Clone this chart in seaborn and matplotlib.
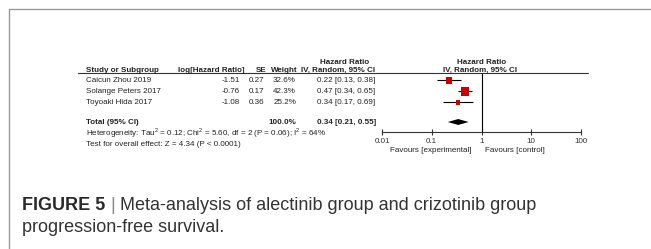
import numpy as np
import pandas as pd
import seaborn as sns
import matplotlib.pyplot as plt
from matplotlib.lines import Line2D

# --- DATA ---
studies = ['Caicun Zhou 2019', 'Solange Peters 2017', 'Toyoaki Hida 2017']
log_hr = ['-1.51', '-0.76', '-1.08']
se = ['0.27', '0.17', '0.36']
weights = [32.6, 42.3, 25.2]
hr = [0.22, 0.47, 0.34]
ci_low = [0.13, 0.34, 0.17]
ci_high = [0.38, 0.65, 0.69]
total_hr, total_low, total_high = 0.34, 0.21, 0.55
het_text = 'Heterogeneity: Tau$^{2}$ = 0.12; Chi$^{2}$ = 5.60, df = 2 (P = 0.06); I$^{2}$ = 64%'
effect_text = 'Test for overall effect: Z = 4.34 (P < 0.0001)'
tick_vals = [0.01, 0.1, 1, 10, 100]
tick_labels = ['0.01', '0.1', '1', '10', '100']

sns.set_theme(style='white')
plt.rcParams['font.family'] = ['Liberation Sans', 'DejaVu Sans']
plt.rcParams['mathtext.fontset'] = 'custom'
plt.rcParams['mathtext.rm'] = 'Liberation Sans'

W, H = 651, 249
fig = plt.figure(figsize=(W / 100, H / 100), dpi=100)

def fx(x): return x / W
def fy(y): return 1 - y / H

TXT = '#222222'
FS = 5.8

def put(x, y, s, ha='left', bold=False, size=FS, color=TXT):
    fig.text(fx(x), fy(y), s, ha=ha, va='center', fontsize=size,
             fontweight='bold' if bold else 'normal', color=color)

# --- frame (top and left border) ---
fig.add_artist(Line2D([fx(9), fx(651)], [fy(9), fy(9)], color='#9a9a9a', lw=1.0))
fig.add_artist(Line2D([fx(9), fx(9)], [fy(9), fy(249)], color='#9a9a9a', lw=1.0))

# --- headers ---
put(345, 62, 'Hazard Ratio', ha='center', bold=True)
put(482, 62, 'Hazard Ratio', ha='center', bold=True)
put(86, 70, 'Study or Subgroup', bold=True)
put(245, 70, 'log[Hazard Ratio]', ha='right', bold=True)
put(266, 70, 'SE', ha='right', bold=True)
put(298, 70, 'Weight', ha='right', bold=True)
put(338, 70, 'IV, Random, 95% CI', ha='center', bold=True)
put(480, 70, 'IV, Random, 95% CI', ha='center', bold=True)
fig.add_artist(Line2D([fx(78), fx(588)], [fy(73.5), fy(73.5)], color='#333333', lw=0.8))

# --- forest panel ---
row_px = [80.5, 91.5, 102.5]
tot_px = 122
top_px, axis_px = 73.5, 132
ax = fig.add_axes([fx(382), fy(axis_px), (581 - 382) / W, (axis_px - top_px) / H])
to_row = lambda p: (p - row_px[0]) / 11.0
rows = [to_row(p) for p in row_px]
tot_row = to_row(tot_px)

df = pd.DataFrame({'study': studies, 'hr': hr, 'lo': ci_low, 'hi': ci_high,
                   'w': weights, 'row': rows})
ax.hlines(df['row'], df['lo'], df['hi'], color='black', lw=0.8, zorder=2)
sns.scatterplot(data=df, x='hr', y='row', size='w', sizes=(10, 36), marker='s',
                color='#cc0000', edgecolor='none', legend=False, ax=ax, zorder=3)
ax.fill([total_low, total_hr, total_high, total_hr],
        [tot_row, tot_row - 0.27, tot_row, tot_row + 0.27], color='black', lw=0)
ax.axvline(1, color='black', lw=0.8)

ax.set_xscale('log')
ax.set_xlim(0.01, 100)
ax.set_ylim(to_row(axis_px), to_row(top_px))
ax.set_xticks(tick_vals)
ax.set_xticklabels(tick_labels)
ax.minorticks_off()
ax.set_yticks([])
ax.set_xlabel('')
ax.set_ylabel('')
for s in ['top', 'left', 'right']:
    ax.spines[s].set_visible(False)
ax.spines['bottom'].set_color('#333333')
ax.spines['bottom'].set_linewidth(0.8)
ax.tick_params(axis='x', direction='inout', length=5, width=0.8, pad=1.5,
               labelsize=FS, colors='#333333', bottom=True)
ax.patch.set_alpha(0)

# --- table rows ---
for i, p in enumerate(row_px):
    put(86, p, studies[i])
    put(240, p, log_hr[i], ha='right')
    put(264, p, se[i], ha='right')
    put(296, p, f'{weights[i]:.1f}%', ha='right')
    put(317, p, f'{hr[i]:.2f} [{ci_low[i]:.2f}, {ci_high[i]:.2f}]')

put(86, tot_px, 'Total (95% CI)', bold=True)
put(296, tot_px, '100.0%', ha='right', bold=True)
put(317, tot_px, f'{total_hr:.2f} [{total_low:.2f}, {total_high:.2f}]', bold=True)
put(86, 133.5, het_text)
put(86, 144, effect_text)
put(472, 150.5, 'Favours [experimental]', ha='right')
put(485, 150.5, 'Favours [control]')

# --- caption ---
cap_fs = 13.0
t1 = fig.text(fx(22), fy(205), 'FIGURE 5', ha='left', va='center', fontsize=cap_fs,
              fontweight='bold', color='#2a2a2a')
fig.canvas.draw()
bb = t1.get_window_extent()
t2 = fig.text(bb.x1 / W + fx(5), fy(205), '|', ha='left', va='center',
              fontsize=cap_fs, color='#888888')
fig.canvas.draw()
bb2 = t2.get_window_extent()
fig.text(bb2.x1 / W + fx(5), fy(205), 'Meta-analysis of alectinib group and crizotinib group',
         ha='left', va='center', fontsize=cap_fs, color='#333333')
fig.text(fx(22), fy(228), 'progression-free survival.', ha='left', va='center',
         fontsize=cap_fs, color='#333333')

fig.savefig('out.png', dpi=100)
